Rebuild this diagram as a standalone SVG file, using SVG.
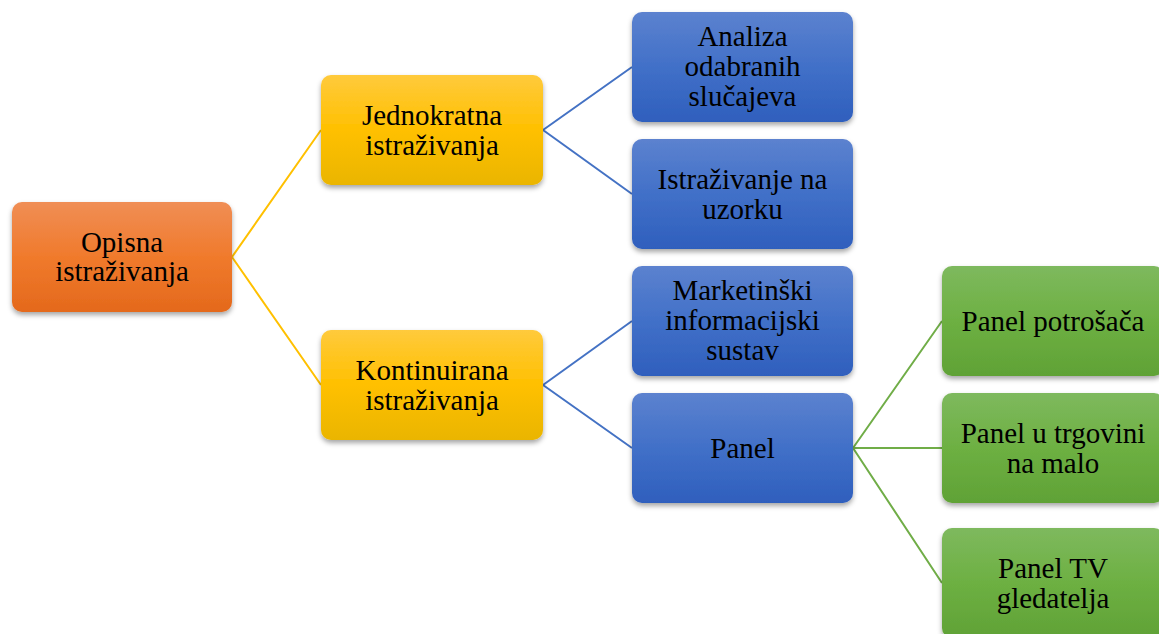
<svg xmlns="http://www.w3.org/2000/svg" width="1159" height="634" viewBox="0 0 1159 634">
<defs>
<linearGradient id="gOr" x1="0" y1="0" x2="0" y2="1"><stop offset="0" stop-color="#F08E55"/><stop offset="0.5" stop-color="#F07A2C"/><stop offset="1" stop-color="#E4691C"/></linearGradient>
<linearGradient id="gYe" x1="0" y1="0" x2="0" y2="1"><stop offset="0" stop-color="#FFCA3C"/><stop offset="0.5" stop-color="#FFC000"/><stop offset="1" stop-color="#EAB500"/></linearGradient>
<linearGradient id="gBl" x1="0" y1="0" x2="0" y2="1"><stop offset="0" stop-color="#5C82CF"/><stop offset="0.5" stop-color="#4170C8"/><stop offset="1" stop-color="#2F5FBD"/></linearGradient>
<linearGradient id="gGr" x1="0" y1="0" x2="0" y2="1"><stop offset="0" stop-color="#7EB95E"/><stop offset="0.5" stop-color="#6DB042"/><stop offset="1" stop-color="#60A236"/></linearGradient>
<filter id="sh" x="-10%" y="-10%" width="120%" height="130%"><feDropShadow dx="0" dy="3" stdDeviation="2.5" flood-color="#000" flood-opacity="0.35"/></filter>
</defs>
<style>
.box{filter:url(#sh)}
.t{font-family:"Liberation Serif","Times New Roman",serif;font-size:29px;fill:#000;text-anchor:middle}
.cy{stroke:#FFC000;stroke-width:2;fill:none}
.cb{stroke:#4472C4;stroke-width:2;fill:none}
.cg{stroke:#70AD47;stroke-width:2;fill:none}
</style>
<g id="connectors">
<path class="cy" d="M232 257 L321 130 M232 257 L321 385"/>
<path class="cb" d="M543 130 L632 67 M543 130 L632 194 M543 385 L632 321 M543 385 L632 448"/>
<path class="cg" d="M853 448 L942 321 M853 448 L942 448 M853 448 L942 583"/>
</g>
<g id="n-opisna"><rect class="box" x="12" y="202" width="220" height="110" rx="10" fill="url(#gOr)"/><text class="t" x="122" y="252">Opisna</text><text class="t" x="122" y="281">istraživanja</text></g>
<g id="n-jednokratna"><rect class="box" x="321" y="75" width="222" height="110" rx="10" fill="url(#gYe)"/><text class="t" x="432" y="124.5">Jednokratna</text><text class="t" x="432" y="154.5">istraživanja</text></g>
<g id="n-kontinuirana"><rect class="box" x="321" y="330" width="222" height="110" rx="10" fill="url(#gYe)"/><text class="t" x="432" y="379.5">Kontinuirana</text><text class="t" x="432" y="409.5">istraživanja</text></g>
<g id="n-analiza"><rect class="box" x="632" y="12" width="221" height="110" rx="10" fill="url(#gBl)"/><text class="t" x="742.5" y="46">Analiza</text><text class="t" x="742.5" y="76">odabranih</text><text class="t" x="742.5" y="106">slučajeva</text></g>
<g id="n-uzorak"><rect class="box" x="632" y="139" width="221" height="110" rx="10" fill="url(#gBl)"/><text class="t" x="742.5" y="188.5">Istraživanje na</text><text class="t" x="742.5" y="218.5">uzorku</text></g>
<g id="n-mis"><rect class="box" x="632" y="266" width="221" height="110" rx="10" fill="url(#gBl)"/><text class="t" x="742.5" y="300">Marketinški</text><text class="t" x="742.5" y="330">informacijski</text><text class="t" x="742.5" y="360">sustav</text></g>
<g id="n-panel"><rect class="box" x="632" y="393" width="221" height="110" rx="10" fill="url(#gBl)"/><text class="t" x="742.5" y="457.5">Panel</text></g>
<g id="n-potrosaca"><rect class="box" x="942" y="266" width="222" height="110" rx="10" fill="url(#gGr)"/><text class="t" x="1053" y="330.5">Panel potrošača</text></g>
<g id="n-trgovina"><rect class="box" x="942" y="393" width="222" height="110" rx="10" fill="url(#gGr)"/><text class="t" x="1053" y="442.5">Panel u trgovini</text><text class="t" x="1053" y="472.5">na malo</text></g>
<g id="n-tv"><rect class="box" x="942" y="528" width="222" height="110" rx="10" fill="url(#gGr)"/><text class="t" x="1053" y="577.5">Panel TV</text><text class="t" x="1053" y="607.5">gledatelja</text></g>
</svg>
